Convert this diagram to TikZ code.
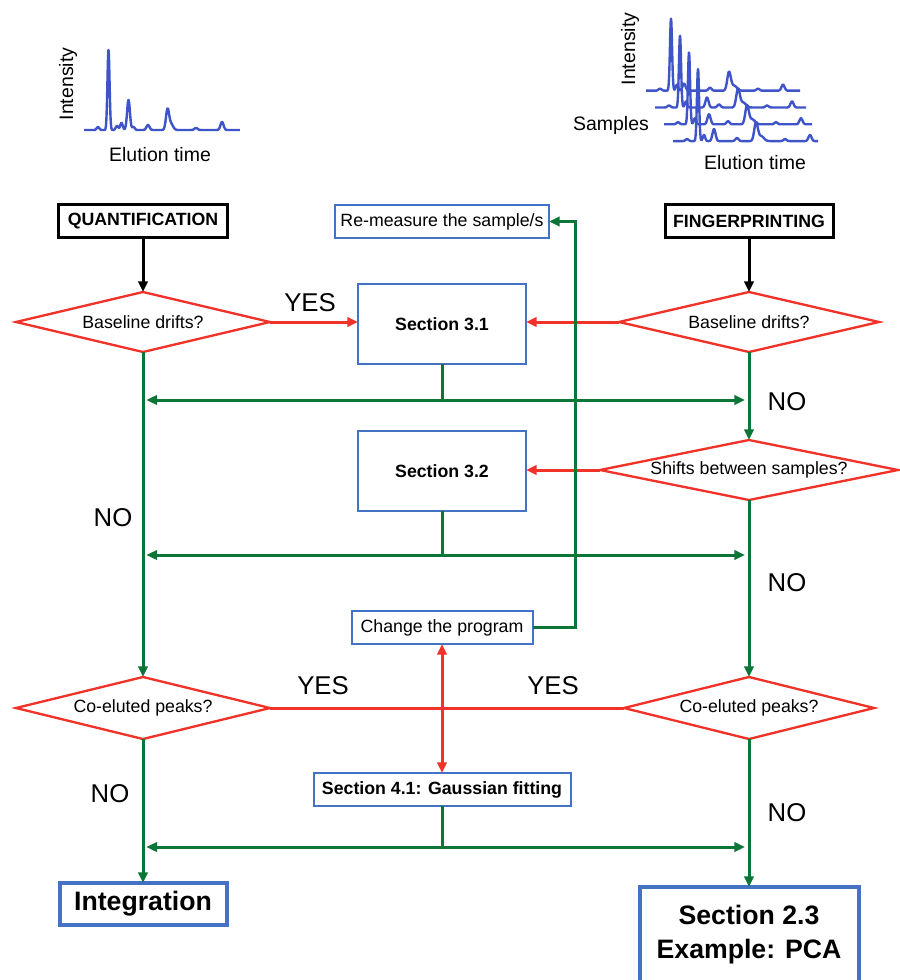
\documentclass[tikz,border=0pt]{standalone}
\usepackage{fontspec}
\setmainfont{Liberation Sans}
\usetikzlibrary{shapes.geometric,arrows.meta,calc}
\definecolor{fblue}{RGB}{68,114,196}
\definecolor{fred}{RGB}{240,50,40}
\definecolor{fgreen}{RGB}{12,118,56}
\definecolor{cblue}{RGB}{62,84,200}
\begin{document}
\begin{tikzpicture}[x=0.75pt,y=-0.75pt,
  declare function={pk(\t,\c,\w)=exp(-pow(min(abs(\t-\c)/\w,4),2));},
  tbox/.style={draw=black,line width=2.25pt,fill=white,inner sep=0pt,outer sep=0pt,font=\fontsize{13.3}{16}\selectfont\bfseries},
  bbox/.style={draw=fblue,line width=1.5pt,fill=white,inner sep=0pt,outer sep=0pt,font=\fontsize{13.3}{16}\selectfont},
  bboxb/.style={bbox,font=\fontsize{13.3}{16}\selectfont\bfseries},
  bigbox/.style={draw=fblue,line width=3pt,fill=white,inner sep=0pt,outer sep=0pt,align=center,font=\fontsize{20}{25.5}\selectfont\bfseries},
  dia/.style={diamond,draw=fred,line width=1.75pt,fill=white,inner sep=0pt,outer sep=0pt,font=\fontsize{13.3}{16}\selectfont},
  lab/.style={inner sep=0pt,font=\fontsize{19.3}{22}\selectfont},
  axl/.style={inner sep=0pt,font=\fontsize{14.6}{17}\selectfont},
  tip/.style={-{Triangle[length=8pt,width=7pt]}},
  gline/.style={draw=fgreen,line width=2.25pt},
  garr/.style={gline,tip},
  rline/.style={draw=fred,line width=2.25pt},
  rarr/.style={rline,tip},
  karr/.style={draw=black,line width=2.25pt,tip},
  trace/.style={draw=cblue,line width=1.8pt,line join=round}
]
\useasboundingbox (0,0) rectangle (899,980);
\fill[white] (0,0) rectangle (899,980);

% ---- chromatogram (quantification)
\draw[trace] plot[domain=84:240,samples=600]
 (\x,{130-80*pk(\x,108.5,1.5)-3*pk(\x,98,1.8)-4*pk(\x,117,1.8)-7*pk(\x,121.5,1.8)
  -30*pk(\x,128.5,2)-3*pk(\x,133.5,1.8)-5*pk(\x,148,2.2)-20*pk(\x,167.5,2.2)
  -6*pk(\x,171,3)-2*pk(\x,196,2.2)-8*pk(\x,222,2.2)});
\node[axl,rotate=90] (int1) at (68,84) {Intensity};
\node[axl] (el1) at (160,155) {Elution time};

% ---- chromatograms (fingerprinting)
\foreach \i/\s/\h in {0/38/7,1/52/10,2/45/10,3/41/12}{
 \draw[trace] plot[domain=0:{154-3*\i},samples=500]
  ({646+9*\i+\x},{90.7+16.8*\i-72*pk(\x,25,1.5)-6*pk(\x,31,1.7)-\h*pk(\x,\s,2.2)
   -3*pk(\x,64,2.2)-18*pk(\x,83,2.5)-5*pk(\x,88,4)-2*pk(\x,14,2.2)-2*pk(\x,112,2.2)-6*pk(\x,137,2.2)});
}
\node[axl,rotate=90] (int2) at (630,49) {Intensity};
\node[axl] (samp) at (611,125) {Samples};
\node[axl] (el2) at (755,163) {Elution time};

% ---- nodes
\node[tbox,minimum width=126.75pt,minimum height=24.75pt] (quant) at (143,221) {QUANTIFICATION};
\node[tbox,minimum width=126pt,minimum height=24.75pt] (finger) at (749,221) {FINGERPRINTING};
\node[bbox,minimum width=160.5pt,minimum height=24.75pt] (remeas) at (442,221.5) {Re-measure the sample/s};
\node[dia,shape aspect=4.2,minimum width=190.5pt,minimum height=45pt] (d1) at (143,322) {Baseline drifts?};
\node[dia,shape aspect=4.3,minimum width=195pt,minimum height=45pt] (d2) at (749,322) {Baseline drifts?};
\node[bboxb,minimum width=126pt,minimum height=60pt] (s31) at (442,324) {Section 3.1};
\node[bboxb,minimum width=126pt,minimum height=60pt] (s32) at (442,471) {Section 3.2};
\node[dia,shape aspect=5,minimum width=223.5pt,minimum height=45pt] (d3) at (749,470) {Shifts between samples?};
\node[bbox,minimum width=135.75pt,minimum height=24.75pt] (change) at (442,627.5) {Change the program};
\node[dia,shape aspect=4.1,minimum width=190.5pt,minimum height=46.5pt] (d5) at (143,708) {Co-eluted peaks?};
\node[dia,shape aspect=4,minimum width=187.5pt,minimum height=46.5pt] (d6) at (749,708) {Co-eluted peaks?};
\node[bboxb,minimum width=192.75pt,minimum height=24.75pt] (s41) at (442,789.5) {Section 4.1: Gaussian fitting};
\node[bigbox,minimum width=125.25pt,minimum height=31.5pt] (integ) at (143,904) {Integration};
\node[bigbox,draw=none,fill=none,minimum width=164.25pt,minimum height=71.25pt] (s23) at (749,934.5) {Section 2.3\\Example: PCA};
\draw[fblue,line width=3pt] (s23.south west) -- (s23.north west) -- (s23.north east) -- (s23.south east);

% ---- labels
\node[lab] (yes1) at (310,303) {YES};
\node[lab] (yes2) at (323,686) {YES};
\node[lab] (yes3) at (553,686) {YES};
\node[lab] (no1) at (787,402) {NO};
\node[lab] (no2) at (113,518) {NO};
\node[lab] (no3) at (787,583) {NO};
\node[lab] (no4) at (110,794) {NO};
\node[lab] (no5) at (787,813) {NO};

% ---- junction coordinates
\coordinate (j1) at (442,400);
\coordinate (j2) at (442,555);
\coordinate (j3) at (442,847);
\coordinate (loopx) at (575,0);

% ---- connectors
\draw[karr] (quant.south) -- (d1.north);
\draw[karr] (finger.south) -- (d2.north);
\draw[rarr] (d1.east) -- (d1.east -| s31.west);
\draw[rarr] (d2.west) -- (d2.west -| s31.east);
\draw[rarr] (d3.west) -- (d3.west -| s32.east);

\draw[garr] (d1.south) -- (d5.north);
\draw[garr] (d2.south) -- (d3.north);
\draw[garr] (d3.south) -- (d6.north);
\draw[garr] (d5.south) -- (integ.north);
\draw[garr] (d6.south) -- (s23.north);

\draw[gline] (s31.south) -- (j1);
\draw[garr,shorten >=2.5pt] (j1) -- (j1 -| d1.south);
\draw[garr,shorten >=3pt] (j1) -- (j1 -| d2.south);
\draw[gline] (s32.south) -- (j2);
\draw[garr,shorten >=2.5pt] (j2) -- (j2 -| d1.south);
\draw[garr,shorten >=3pt] (j2) -- (j2 -| d2.south);
\draw[gline] (s41.south) -- (j3);
\draw[garr,shorten >=2.5pt] (j3) -- (j3 -| d1.south);
\draw[garr,shorten >=3pt] (j3) -- (j3 -| d2.south);

\draw[garr] (change.east) -- (change.east -| loopx) -- (remeas.east -| loopx) -- (remeas.east);

\draw[rline] (d5.east) -- (d6.west);
\draw[rline,{Triangle[length=8pt,width=7pt]}-{Triangle[length=8pt,width=7pt]}] (change.south) -- (s41.north);
\end{tikzpicture}
\end{document}
